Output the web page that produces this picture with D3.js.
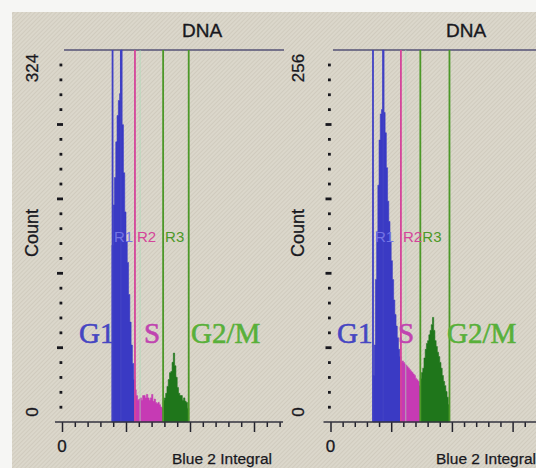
<!DOCTYPE html>
<html>
<head>
<meta charset="utf-8">
<script src="https://cdn.jsdelivr.net/npm/d3@7"></script>
<style>
  html, body { margin: 0; padding: 0; background: #f6f6f4; }
  svg { display: block; }
  text { font-family: "Liberation Sans", Arial, sans-serif; }
  .phase { font-family: "Liberation Serif", "Times New Roman", serif; }
</style>
</head>
<body>
<div id="chart"></div>
<script>
// istogrammi DNA (ciclo cellulare) - due campioni affiancati
// conteggi per bin di 2 canali

const panelTitles = ['DNA', 'DNA'];
const yMaxes = [324, 256];
const xLabel = 'Blue 2 Integral';
const yLabel = 'Count';
const phaseNames = ['G1', 'S', 'G2/M'];
const regionNames = ['R1', 'R2', 'R3'];

// pannello sinistro
const leftStart = 78;
const leftCounts = [
  154, 189, 213, 244, 267, 280, 286, 324, 259, 217, 183, 157, 139, 111, 87, 67, 51, 37,
  28, 23, 19, 20, 21, 19, 23, 23, 21, 24, 21, 19, 21, 24, 18, 20, 17, 16, 17, 15, 13, 12,
  19, 21, 25, 31, 37, 43, 44, 52, 60, 49, 39, 30, 25, 23, 23, 19, 21, 18, 17, 12
];
// confini regioni R1 | R2 | R3 (canali)
const leftRegions = [[78, 114], [114, 158], [158, 198]];
const leftMarkers = [79, 92, 114, 158, 198];

// pannello destro
const rightStart = 70;
const rightCounts = [
  32, 53, 98, 131, 163, 194, 212, 215, 256, 213, 199, 175, 152, 138, 124, 111, 98, 84, 74, 66, 58, 50, 45,
  41, 42, 41, 40, 39, 38, 37, 36, 35, 34, 33, 32, 30, 29, 28, 25,
  30, 34, 37, 44, 50, 54, 56, 60, 63, 67, 72, 63, 56, 52, 48, 45, 41, 37, 32, 28, 25, 21, 17, 12
];
const rightRegions = [[70, 116], [116, 148], [148, 196]];
const rightMarkers = [70, 87, 116, 148, 196];

const binWidth = 2;

const W = 536, H = 468;
const regionFill = ['#3a3ac4', '#c63ab4', '#1f761b'];
const regionLine = ['#4040c4', '#d4449a', '#4c9828'];
const phaseColor = ['#4646c2', '#c044b0', '#58b03a'];
const ink = '#18181e';

const svg = d3.select('#chart').append('svg')
  .attr('width', W).attr('height', H);

// sfondo con trama diagonale (scansione)
const defs = svg.append('defs');
const pat = defs.append('pattern')
  .attr('id', 'hatch').attr('width', 3).attr('height', 3)
  .attr('patternUnits', 'userSpaceOnUse')
  .attr('patternTransform', 'rotate(45)');
pat.append('rect').attr('width', 3).attr('height', 3).attr('fill', '#dbd7cb');
pat.append('line').attr('x1', 0).attr('y1', 0).attr('x2', 0).attr('y2', 3)
  .attr('stroke', '#c9c4b6').attr('stroke-width', 1.2);

svg.append('rect').attr('width', W).attr('height', H).attr('fill', '#f6f6f4');
svg.append('rect').attr('x', 12).attr('y', 12).attr('width', W - 12).attr('height', H - 12)
  .attr('fill', 'url(#hatch)');

const panels = [
  { title: panelTitles[0], yMax: yMaxes[0], start: leftStart, counts: leftCounts,
    regions: leftRegions, markers: leftMarkers,
    x0: 62, xEnd: 283, ppu: 0.64, topFrom: 64, topTo: 284, titleX: 202, textX: 33,
    phaseX: [79, 144, 191], labelX: 172 },
  { title: panelTitles[1], yMax: yMaxes[1], start: rightStart, counts: rightCounts,
    regions: rightRegions, markers: rightMarkers,
    x0: 330.5, xEnd: 536, ppu: 0.607, topFrom: 333, topTo: W, titleX: 466, textX: 299,
    phaseX: [337, 398, 447], labelX: 436 }
];

const baseY = 422, topY = 50;

panels.forEach((p, pi) => {
  const g = svg.append('g');
  const maxCh = (p.xEnd - p.x0) / p.ppu;
  const x = d3.scaleLinear().domain([0, maxCh]).range([p.x0, p.xEnd]);
  const y = d3.scaleLinear().domain([0, p.yMax]).range([baseY, topY]);

  const bins = p.counts.map((c, i) => {
    const ch = p.start + i * binWidth;
    const r = p.regions.findIndex(([a, b]) => ch >= a && ch < b);
    return { ch, count: c, region: r < 0 ? 2 : r };
  });

  // titolo
  g.append('text').attr('x', p.titleX).attr('y', 37)
    .attr('text-anchor', 'middle').attr('font-size', 19).attr('fill', ink)
    .attr('stroke', ink).attr('stroke-width', 0.35)
    .text(p.title);

  // linea superiore
  g.append('line')
    .attr('x1', p.topFrom).attr('x2', p.topTo)
    .attr('y1', topY).attr('y2', topY)
    .attr('stroke', '#75728a').attr('stroke-width', 1.8);

  // istogramma a gradini, una area per regione
  const area = d3.area()
    .curve(d3.curveStepAfter)
    .x(d => x(d.ch))
    .y0(baseY)
    .y1(d => y(d.count));
  p.regions.forEach((reg, ri) => {
    const pts = bins.filter(b => b.region === ri);
    if (!pts.length) return;
    const last = pts[pts.length - 1];
    pts.push({ ch: last.ch + binWidth, count: last.count, region: ri });
    g.append('path').datum(pts)
      .attr('d', area)
      .attr('fill', regionFill[ri])
      .attr('stroke', regionFill[ri]).attr('stroke-width', 0.6);
  });

  // linee marcatori delle regioni
  const markerColor = i => i < 2 ? regionLine[0] : (i === 2 ? regionLine[1] : regionLine[2]);
  g.selectAll('.marker').data(p.markers).join('line')
    .attr('class', 'marker')
    .attr('x1', d => x(d)).attr('x2', d => x(d))
    .attr('y1', topY).attr('y2', baseY)
    .attr('stroke', (d, i) => markerColor(i))
    .attr('stroke-width', 1.8);
  // linea chiara dentro R2
  g.append('line')
    .attr('x1', x(p.regions[1][0] + 8)).attr('x2', x(p.regions[1][0] + 8))
    .attr('y1', topY).attr('y2', baseY)
    .attr('stroke', '#a8dcb8').attr('stroke-width', 1).attr('opacity', 0.7);

  // etichette R1 R2 R3
  g.selectAll('.rlab').data(p.regions).join('text')
    .attr('class', 'rlab')
    .attr('x', d => x(d[0]) + 2).attr('y', 242)
    .attr('font-size', 15)
    .attr('fill', (d, i) => i === 0 ? '#7474e4' : regionLine[i])
    .text((d, i) => regionNames[i]);

  // fasi G1 S G2/M
  g.selectAll('.phase').data(phaseNames).join('text')
    .attr('class', 'phase')
    .attr('x', (d, i) => p.phaseX[i]).attr('y', 343)
    .attr('font-size', 29)
    .attr('fill', (d, i) => phaseColor[i])
    .attr('stroke', (d, i) => phaseColor[i]).attr('stroke-width', 0.6)
    .text(d => d);

  // asse y a puntini
  const yTicks = d3.range(1, 25).map(k => k * p.yMax / 25);
  g.selectAll('.ytick').data(yTicks).join('rect')
    .attr('class', 'ytick')
    .attr('x', (d, i) => (i + 1) % 5 === 0 ? p.x0 - 5 : p.x0 - 2.5)
    .attr('y', d => y(d) - 1.3)
    .attr('width', (d, i) => (i + 1) % 5 === 0 ? 6 : 2.8)
    .attr('height', 2.8)
    .attr('fill', ink);

  // etichette asse y (ruotate)
  const rot = (txt, cy, size) => g.append('text')
    .attr('transform', `translate(${p.textX + 5},${cy}) rotate(-90)`)
    .attr('text-anchor', 'middle').attr('font-size', size).attr('fill', ink)
    .attr('stroke', ink).attr('stroke-width', 0.3)
    .text(txt);
  rot(String(p.yMax), 68, 17);
  rot(yLabel, 233, 18);
  rot('0', 412, 17);

  // asse x
  const ax = g.append('g').attr('transform', `translate(0,${baseY})`)
    .call(d3.axisBottom(x)
      .tickValues(d3.range(0, maxCh, 20))
      .tickSize(5)
      .tickFormat(''));
  ax.select('.domain').remove();
  ax.selectAll('.tick line')
    .attr('stroke', '#22222c').attr('stroke-width', 1.5)
    .attr('y2', d => d % 100 === 0 ? 10 : 5);
  g.append('line')
    .attr('x1', p.x0 - 7).attr('x2', p.xEnd)
    .attr('y1', baseY).attr('y2', baseY)
    .attr('stroke', '#33333f').attr('stroke-width', 1.6);

  g.append('text').attr('x', x(0)).attr('y', 452)
    .attr('text-anchor', 'middle').attr('font-size', 17).attr('fill', ink)
    .attr('stroke', ink).attr('stroke-width', 0.3)
    .text('0');
  g.append('text').attr('x', p.labelX).attr('y', 464)
    .attr('font-size', 15.5).attr('fill', ink)
    .attr('stroke', ink).attr('stroke-width', 0.25)
    .text(xLabel);
});
</script>
</body>
</html>
